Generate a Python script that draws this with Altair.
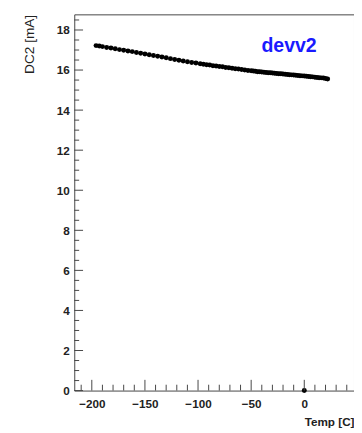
import altair as alt
import pandas as pd

# Measured data (Temp [C] vs DC2 [mA])
temps = [-196, -193, -190, -186, -182, -178, -174, -170, -166, -162, -158, -154,
         -150, -146, -142, -138, -134, -130, -126, -122, -118, -114, -110, -106,
         -102, -98, -95, -92, -89, -86, -83, -80, -77, -74, -71, -68, -65, -62,
         -59, -56, -53, -50, -48, -46, -44, -42, -40, -38, -36, -34, -32, -30,
         -28, -26, -24, -22, -20, -18, -16, -14, -12, -10, -8, -6, -4, -2, 0,
         2, 4, 6, 8, 10, 12, 14, 16, 18, 20, 22, 0]
dc2 = [17.22, 17.20, 17.17, 17.13, 17.10, 17.06, 17.02, 16.99, 16.95, 16.92, 16.88, 16.84,
       16.80, 16.76, 16.73, 16.69, 16.65, 16.61, 16.57, 16.53, 16.49, 16.45, 16.41, 16.38,
       16.35, 16.32, 16.29, 16.27, 16.25, 16.22, 16.20, 16.18, 16.16, 16.13, 16.11, 16.09,
       16.07, 16.05, 16.03, 16.00, 15.98, 15.96, 15.95, 15.94, 15.92, 15.91, 15.90, 15.89,
       15.88, 15.87, 15.86, 15.85, 15.84, 15.83, 15.82, 15.81, 15.80, 15.79, 15.78, 15.77,
       15.76, 15.75, 15.74, 15.73, 15.72, 15.71, 15.70, 15.69, 15.68, 15.67, 15.66, 15.64,
       15.63, 15.62, 15.61, 15.60, 15.58, 15.55, 0.0]

x_major = [-200, -150, -100, -50, 0]
x_minor = [-210, -190, -180, -170, -160, -140, -130, -120, -110, -90, -80, -70, -60,
           -40, -30, -20, -10, 10, 20, 30, 40]
y_major = [0, 2, 4, 6, 8, 10, 12, 14, 16, 18]
y_minor = [0.5, 1, 1.5, 2.5, 3, 3.5, 4.5, 5, 5.5, 6.5, 7, 7.5, 8.5, 9, 9.5, 10.5, 11,
           11.5, 12.5, 13, 13.5, 14.5, 15, 15.5, 16.5, 17, 17.5, 18.5]

label_text = "devv2"

W, H = 287, 386
FONT = "Liberation Sans"
GRAY = "#444444"

xs = alt.Scale(domain=[-216.5, 46.8], nice=False, zero=False)
ys = alt.Scale(domain=[0, 18.78], nice=False, zero=False)

xaxis = alt.Axis(title="Temp [C]", values=x_major, ticks=False, tickSize=0,
                 domain=False, grid=False, labelPadding=8,
                 labelFont=FONT, labelFontSize=12, labelFontWeight="bold",
                 labelColor="#222222", titleFont=FONT, titleFontSize=12,
                 titleFontWeight="bold", titleColor="#222222",
                 titleAnchor="end", titleAlign="right", titlePadding=8)
yaxis = alt.Axis(title="DC2 [mA]", values=y_major, ticks=False, tickSize=0,
                 domain=False, grid=False, labelPadding=5,
                 labelFont=FONT, labelFontSize=12, labelFontWeight="bold",
                 labelColor="#222222", titleFont=FONT, titleFontSize=14,
                 titleFontWeight="normal", titleColor="#222222",
                 titleAnchor="end", titlePadding=20)

df = pd.DataFrame({"temp": temps, "dc2": dc2})

points = alt.Chart(df).mark_circle(size=26, color="black", opacity=1).encode(
    x=alt.X("temp:Q", scale=xs, axis=xaxis),
    y=alt.Y("dc2:Q", scale=ys, axis=yaxis),
)

xmaj = alt.Chart(pd.DataFrame({"temp": x_major})).mark_rule(color=GRAY, strokeWidth=1).encode(
    x=alt.X("temp:Q", scale=xs, axis=xaxis), y=alt.value(H), y2=alt.value(H - 11))
xmin = alt.Chart(pd.DataFrame({"temp": x_minor})).mark_rule(color=GRAY, strokeWidth=1).encode(
    x=alt.X("temp:Q", scale=xs, axis=xaxis), y=alt.value(H), y2=alt.value(H - 6))
ymaj = alt.Chart(pd.DataFrame({"dc2": y_major})).mark_rule(color=GRAY, strokeWidth=1).encode(
    y=alt.Y("dc2:Q", scale=ys, axis=yaxis), x=alt.value(0), x2=alt.value(9))
ymin = alt.Chart(pd.DataFrame({"dc2": y_minor})).mark_rule(color=GRAY, strokeWidth=1).encode(
    y=alt.Y("dc2:Q", scale=ys, axis=yaxis), x=alt.value(0), x2=alt.value(5))

label = alt.Chart(pd.DataFrame({"s": [label_text]})).mark_text(
    font=FONT, fontSize=20, fontWeight="bold", color="#1a1aff",
    align="left", baseline="alphabetic").encode(
    text="s:N", x=alt.value(192), y=alt.value(38.7))

chart = alt.layer(points, xmin, xmaj, ymin, ymaj, label).properties(
    width=W, height=H, background="white",
    padding={"left": 15, "top": 0, "right": 0, "bottom": 0},
).configure_view(stroke=GRAY, strokeWidth=1)

chart.save("out.html", embed_options={"renderer": "svg", "actions": False})
